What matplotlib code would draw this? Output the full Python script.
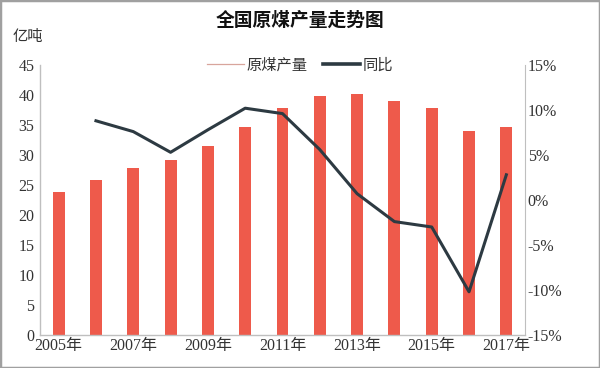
import matplotlib
matplotlib.use("Agg")
import matplotlib.pyplot as plt
from matplotlib.lines import Line2D
from matplotlib.patches import Rectangle

plt.rcParams['font.family'] = ['Liberation Serif', 'Noto Sans CJK SC', 'DejaVu Sans']

years = ['2005年', '2006年', '2007年', '2008年', '2009年', '2010年', '2011年',
         '2012年', '2013年', '2014年', '2015年', '2016年', '2017年']
output = [23.8, 25.9, 27.8, 29.2, 31.5, 34.6, 37.9, 39.8, 40.1, 39.0, 37.8, 34.0, 34.7]
yoy_years = years[1:]
yoy = [8.8, 7.6, 5.3, 7.8, 10.2, 9.6, 5.6, 0.7, -2.4, -3.0, -10.2, 2.8]
left_ticks = [0, 5, 10, 15, 20, 25, 30, 35, 40, 45]
right_ticks = [-15, -10, -5, 0, 5, 10, 15]

bar_color = '#EE5A4B'
line_color = '#2D3A42'
spine_color = '#BFBFBF'
text_color = '#333333'

fig = plt.figure(figsize=(6, 3.68), dpi=100)
ax = fig.add_axes([40/600, 1-335/368, 485/600, 270/368])
x = list(range(len(years)))
ax.bar(x, output, width=0.32, color=bar_color, zorder=2)
ax.set_xlim(-0.5, len(years)-0.5)
ax.set_ylim(0, 45)
ax.set_yticks(left_ticks)
ax.set_xticks(x[::2])
ax.set_xticklabels(years[::2])
ax.tick_params(axis='both', length=0, labelsize=11.5, colors=text_color)
ax.tick_params(axis='x', pad=2)
ax.tick_params(axis='y', pad=4)
for s in ['top', 'right']:
    ax.spines[s].set_visible(False)
for s in ['left', 'bottom']:
    ax.spines[s].set_color(spine_color)
    ax.spines[s].set_linewidth(1)

ax2 = ax.twinx()
ax2.plot(x[1:], yoy, color=line_color, linewidth=2.2, zorder=3)
ax2.set_ylim(-15, 15)
ax2.set_yticks(right_ticks)
ax2.set_yticklabels([f'{t}%' for t in right_ticks])
ax2.tick_params(axis='y', length=0, labelsize=11.5, colors=text_color, pad=2)
for s in ['top', 'left', 'bottom']:
    ax2.spines[s].set_visible(False)
ax2.spines['right'].set_color(spine_color)

fig.text(0.5, 1-20/368, '全国原煤产量走势图', ha='center', va='center',
         fontsize=13.5, fontweight='bold', family=['Noto Sans CJK SC'], color='#111111')
fig.text(13/600, 1-37/368, '亿吨', ha='left', va='center', fontsize=11,
         family=['Noto Sans CJK SC'], color=text_color)

handles = [Line2D([0], [0], color='#D8A59C', linewidth=0.9),
           Line2D([0], [0], color=line_color, linewidth=2.6)]
leg = fig.legend(handles, ['原煤产量', '同比'], loc='center', bbox_to_anchor=(300/600, 1-65/368),
                 ncol=2, frameon=False, handlelength=2.4, handletextpad=0.2, columnspacing=1.0,
                 prop={'family': ['Noto Sans CJK SC'], 'size': 11})
for t in leg.get_texts():
    t.set_color(text_color)

fig.patches.append(Rectangle((0, 0), 1, 1, transform=fig.transFigure, fill=False,
                             edgecolor='#A0A0A0', linewidth=2.5))

fig.savefig('out.png', dpi=100)
